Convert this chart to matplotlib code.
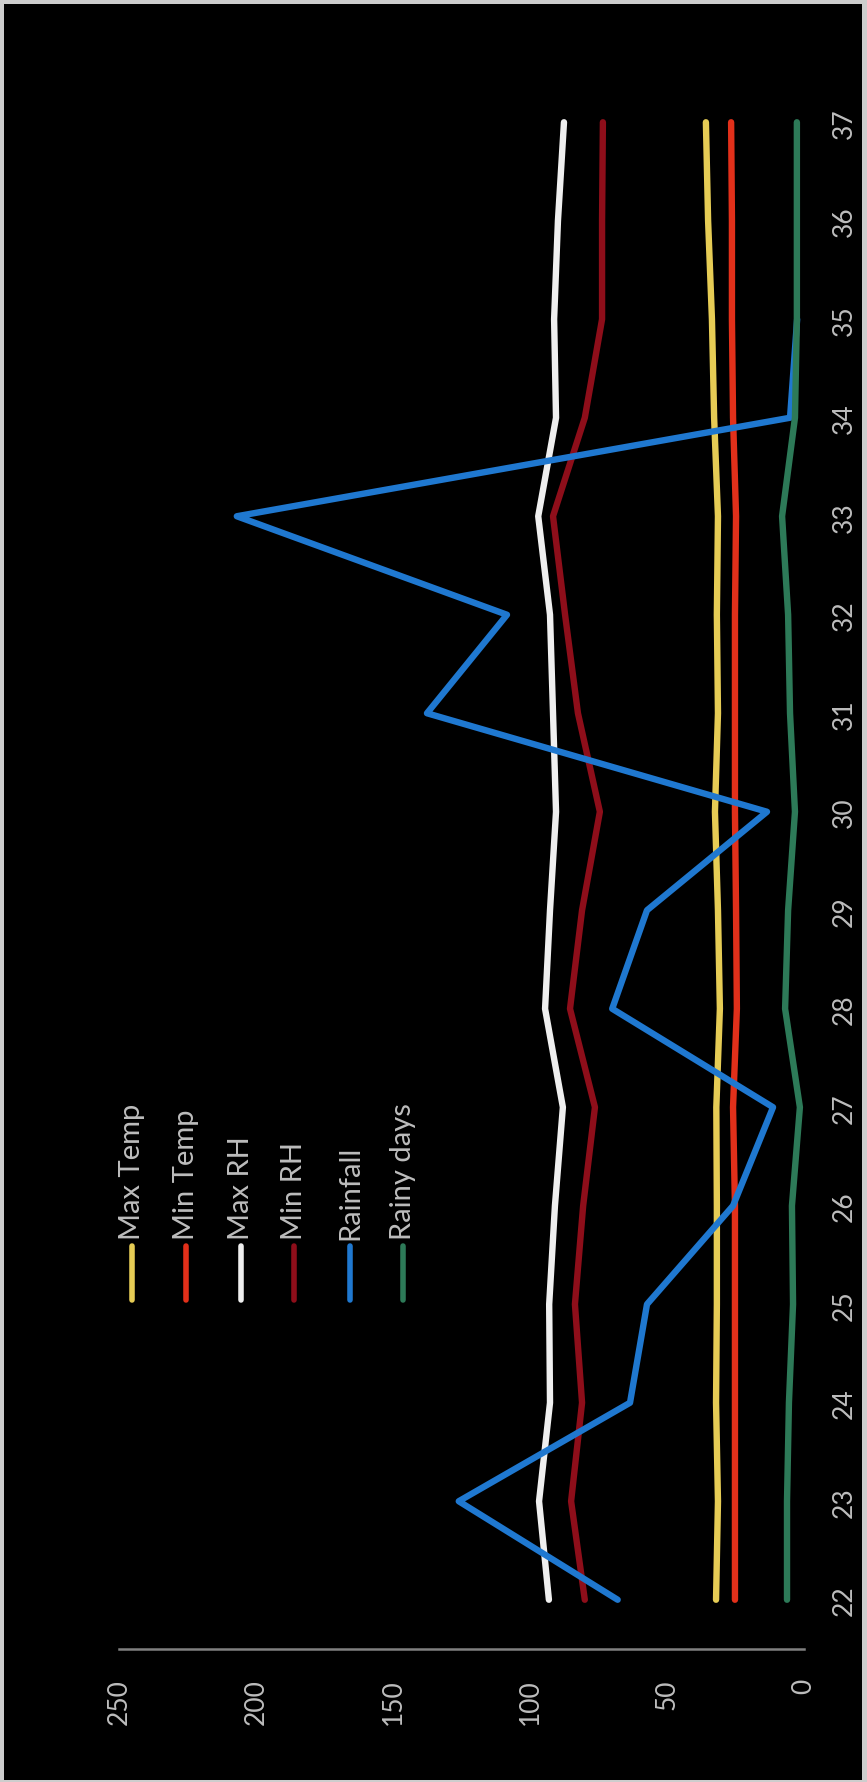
import numpy as np
import matplotlib
matplotlib.use("Agg")
import matplotlib.pyplot as plt
from matplotlib.patches import Rectangle
from matplotlib.lines import Line2D

plt.rcParams['font.family'] = ['Lato', 'DejaVu Sans']

# Weekly weather observations (standard meteorological weeks)
weeks = [22, 23, 24, 25, 26, 27, 28, 29, 30, 31, 32, 33, 34, 35, 36, 37]
max_temp = [32.1, 31.4, 32.1, 31.8, 31.8, 32.0, 30.7, 31.4, 32.5, 31.4, 31.8, 31.4, 32.8, 33.6, 35.0, 35.8]
min_temp = [25.2, 25.2, 25.2, 25.2, 25.2, 25.9, 24.5, 24.8, 25.2, 25.2, 25.2, 24.8, 25.9, 26.3, 26.3, 26.6]
max_rh = [93.1, 96.7, 92.7, 93.0, 90.9, 88.0, 94.5, 92.7, 90.5, 91.6, 92.7, 97.0, 90.5, 91.2, 89.8, 87.6]
min_rh = [80.0, 85.0, 81.0, 83.6, 80.6, 76.3, 85.4, 81.0, 74.5, 82.5, 87.2, 91.6, 80.0, 73.7, 73.7, 73.4]
rainfall = [68.0, 126.0, 63.5, 57.3, 25.9, 11.3, 70.0, 57.3, 13.5, 137.6, 108.4, 207.0, 5.1, 2.5, np.nan, np.nan]
rainy_days = [6.2, 6.2, 5.5, 4.0, 4.4, 1.5, 6.9, 5.8, 3.3, 5.1, 5.8, 8.0, 3.3, 2.6, 2.6, 2.6]

series_names = ["Max Temp", "Min Temp", "Max RH", "Min RH", "Rainfall", "Rainy days"]
series_values = [max_temp, min_temp, max_rh, min_rh, rainfall, rainy_days]
series_colors = ["#E6CC55", "#E2301A", "#EFEFEF", "#8E0E1A", "#1F78D0", "#2D7A58"]
value_ticks = [0, 50, 100, 150, 200, 250]

W, H = 867, 1783
fig = plt.figure(figsize=(W / 100, H / 100), dpi=100)
fig.patch.set_facecolor("#cdcdcd")
fig.add_artist(Rectangle((4 / W, 2 / H), (W - 9) / W, (H - 7) / H,
                         transform=fig.transFigure, facecolor="black",
                         edgecolor="none", zorder=0))

# Chart is laid out sideways: values run right-to-left, weeks bottom-to-top
left_px, right_px = 119, 804
top_px, bottom_px = 74, 1650
ax = fig.add_axes([left_px / W, (H - bottom_px) / H,
                   (right_px - left_px) / W, (bottom_px - top_px) / H])
ax.set_facecolor("black")
ax.set_xlim(250, 0)
ax.set_ylim(21.5, 37.5)

for name, vals, col in zip(series_names, series_values, series_colors):
    ax.plot(vals, weeks, color=col, lw=4.6, solid_capstyle="round",
            solid_joinstyle="round", label=name)

for s in ["top", "left", "right"]:
    ax.spines[s].set_visible(False)
ax.spines["bottom"].set_color("#808080")
ax.spines["bottom"].set_linewidth(1.8)

ax.set_xticks(value_ticks)
ax.set_xticklabels([str(v) for v in value_ticks], rotation=90, va="top", ha="center")
ax.tick_params(axis="x", length=0, pad=21, colors="#bdbdbd", labelsize=19)

ax.yaxis.tick_right()
ax.set_yticks(weeks)
ax.set_yticklabels([str(w) for w in weeks], rotation=90, va="center", ha="left")
ax.tick_params(axis="y", length=0, pad=20, colors="#bdbdbd", labelsize=19)

# Legend, stacked sideways to follow the chart orientation
leg_x = [132, 186, 241, 294, 350, 403]
for x, name, col in zip(leg_x, series_names, series_colors):
    fig.add_artist(Line2D([x / W, x / W], [(H - 1247) / H, (H - 1301) / H],
                          transform=fig.transFigure, color=col, lw=4.0,
                          solid_capstyle="round"))
    fig.text(x / W, (H - 1240) / H, name, rotation=90, ha="center", va="bottom",
             color="#bdbdbd", fontsize=21)

fig.savefig("out.png", dpi=100, facecolor=fig.get_facecolor())
